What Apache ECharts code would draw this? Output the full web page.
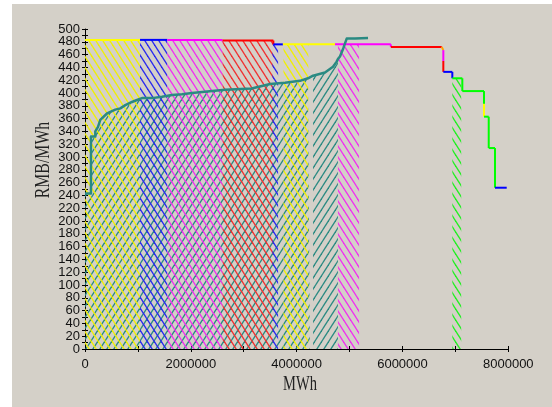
<!DOCTYPE html>
<html>
<head>
<meta charset="utf-8">
<script src="https://cdn.jsdelivr.net/npm/echarts@6/dist/echarts.min.js"></script>
<style>
  html, body { margin: 0; padding: 0; background: #fff; }
  #main { width: 552px; height: 407px; }
</style>
</head>
<body>
<div id="main"></div>
<script>
// offer curve: vertices of the stepped line, one colour per edge
const offerX = [0, 1040000, 1555000, 2600000, 2600000, 3560000, 3560000, 3740000, 4725000, 5780000, 5780000,
  6742000, 6772000, 6772000, 6772000, 6942000, 6942000, 7131000, 7131000, 7541000, 7541000, 7541000,
  7630000, 7630000, 7749000, 7749000, 7970000]
const offerY = [483, 483, 483, 483, 482, 482, 476, 476, 476, 476, 472,
  472, 467, 450, 433, 433, 423, 423, 403, 403, 383, 363,
  363, 314, 314, 252, 252]
const offerEdgeColor = ['#ffff00', '#0000ff', '#ff00ff', '#ff0000', '#ff0000', '#ff0000', '#0000ff', '#ffff00', '#ff00ff', '#ff00ff',
  '#ff0000', '#ffa000', '#ff00ff', '#ff0000', '#0000ff', '#0000ff', '#00ff00', '#00ff00', '#00ff00', '#00ff00',
  '#ffff00', '#00ff00', '#00ff00', '#00ff00', '#00ff00', '#0000ff']

// hatched blocks under the offer curve
const blockStart = [0, 1040000, 1555000, 2600000, 3540000, 3750000, 4780000, 6942000]
const blockEnd = [1040000, 1555000, 2600000, 3560000, 3650000, 4220000, 5180000, 7110000]
const blockTop = [483, 483, 483, 482, 476, 476, 476, 423]
const blockColor = ['#f0f000', '#2828f0', '#f030f0', '#f03030', '#2828f0', '#f0f000', '#f030f0', '#20f020']

// teal bid curve
const bidX = [0, 113000, 113000, 195000, 195000, 246000, 289000, 321000, 416000, 448000, 573000, 667000,
  762000, 888000, 983000, 1077000, 1266000, 1455000, 1644000, 1833000, 2022000, 2646000, 3150000,
  3497000, 3780000, 4063000, 4215000, 4250000, 4310000, 4347000, 4536000, 4687000, 4756000, 4780000,
  4819000, 4882000, 4946000, 5103000, 5349000]
const bidY = [243, 243, 332, 332, 340, 347, 358, 360, 368, 371, 374, 376,
  381, 386, 389, 392, 392, 394, 397, 398, 400, 405, 407,
  414, 416, 419, 423, 424, 427, 428, 432, 441, 449, 453,
  457, 470, 485, 485, 486]
const bidHatchFrom = [0, 4310000]
const bidHatchTo = [4250000, 4780000]

const xTicks = [0, 8000000, 2000000]
const yTicks = [0, 500, 20]

const teal = '#2a8a82'

function hatch(color, dir) {
  const w = 7, h = 11
  const c = document.createElement('canvas')
  c.width = w
  c.height = h
  const g = c.getContext('2d')
  g.strokeStyle = color
  g.lineWidth = 1.3
  for (let k = -1; k <= 1; k++) {
    g.beginPath()
    if (dir > 0) {
      g.moveTo(w * k - w, -h)
      g.lineTo(w * k + 2 * w, 2 * h)
    } else {
      g.moveTo(w * k + 2 * w, -h)
      g.lineTo(w * k - w, 2 * h)
    }
    g.stroke()
  }
  return {image: c, repeat: 'repeat'}
}

const series = []

// teal hatch (drawn first)
bidHatchFrom.forEach((from, j) => {
  const pts = []
  bidX.forEach((x, i) => {
    if (x >= from && x <= bidHatchTo[j]) pts.push([x, bidY[i]])
  })
  series.push({
    type: 'line', data: pts, symbol: 'none', silent: true,
    lineStyle: {opacity: 0},
    areaStyle: {color: hatch(teal, -1), opacity: 1}
  })
})

blockStart.forEach((x0, i) => {
  series.push({
    type: 'line', data: [[x0, blockTop[i]], [blockEnd[i], blockTop[i]]], symbol: 'none', silent: true,
    lineStyle: {opacity: 0},
    areaStyle: {color: hatch(blockColor[i], 1), opacity: 1}
  })
})

offerEdgeColor.forEach((col, i) => {
  series.push({
    type: 'line', data: [[offerX[i], offerY[i]], [offerX[i + 1], offerY[i + 1]]],
    symbol: 'none', silent: true, z: 3,
    lineStyle: {color: col, width: 2}
  })
})

series.push({
  type: 'line', data: bidX.map((x, i) => [x, bidY[i]]), symbol: 'none', silent: true, z: 4,
  lineStyle: {color: teal, width: 2.5, join: 'round'}
})

const lbl = {color: '#111', fontFamily: 'Liberation Sans', fontSize: 13, formatter: v => String(v)}

const chart = echarts.init(document.getElementById('main'))
chart.setOption({
  animation: false,
  backgroundColor: 'transparent',
  graphic: [
    {type: 'rect', z: -10, shape: {x: 12, y: 4, width: 540, height: 403}, style: {fill: '#d4d0c8'}},
    {type: 'text', x: 43, y: 160, rotation: Math.PI / 2, scaleX: 0.72,
      style: {text: 'RMB/MWh', font: '22px "Liberation Serif"', fill: '#222', align: 'center', verticalAlign: 'middle'}},
    {type: 'text', x: 300, y: 384, scaleX: 0.66,
      style: {text: 'MWh', font: '22px "Liberation Serif"', fill: '#222', align: 'center', verticalAlign: 'middle'}}
  ],
  grid: {left: 85, top: 29, right: 43.7, bottom: 58, containLabel: false},
  xAxis: [
    {type: 'value', min: xTicks[0], max: xTicks[1], interval: xTicks[2], position: 'bottom',
      axisLine: {onZero: false, lineStyle: {color: '#000', width: 1}},
      axisTick: {length: 3, lineStyle: {color: '#000'}},
      minorTick: {show: true, splitNumber: 2, length: 3, lineStyle: {color: '#000'}},
      axisLabel: Object.assign({margin: 9}, lbl),
      splitLine: {show: false}},
    {type: 'value', min: xTicks[0], max: xTicks[1], interval: xTicks[2], position: 'bottom', offset: 0,
      axisLine: {show: false},
      axisTick: {inside: true, length: 3, lineStyle: {color: '#000'}},
      minorTick: {show: true, splitNumber: 2, length: 3, lineStyle: {color: '#000'}},
      axisLabel: {show: false}, splitLine: {show: false}}
  ],
  yAxis: [
    {type: 'value', min: yTicks[0], max: yTicks[1], interval: yTicks[2], position: 'left',
      axisLine: {show: true, onZero: false, lineStyle: {color: '#000', width: 1}},
      axisTick: {show: true, length: 3, lineStyle: {color: '#000'}},
      minorTick: {show: true, splitNumber: 2, length: 3, lineStyle: {color: '#000'}},
      axisLabel: Object.assign({margin: 5}, lbl),
      splitLine: {show: false}},
    {type: 'value', min: yTicks[0], max: yTicks[1], interval: yTicks[2], position: 'left', offset: 0,
      axisLine: {show: false},
      axisTick: {show: true, inside: true, length: 3, lineStyle: {color: '#000'}},
      minorTick: {show: true, splitNumber: 2, length: 3, lineStyle: {color: '#000'}},
      axisLabel: {show: false}, splitLine: {show: false}}
  ],
  series: series
})
</script>
</body>
</html>
